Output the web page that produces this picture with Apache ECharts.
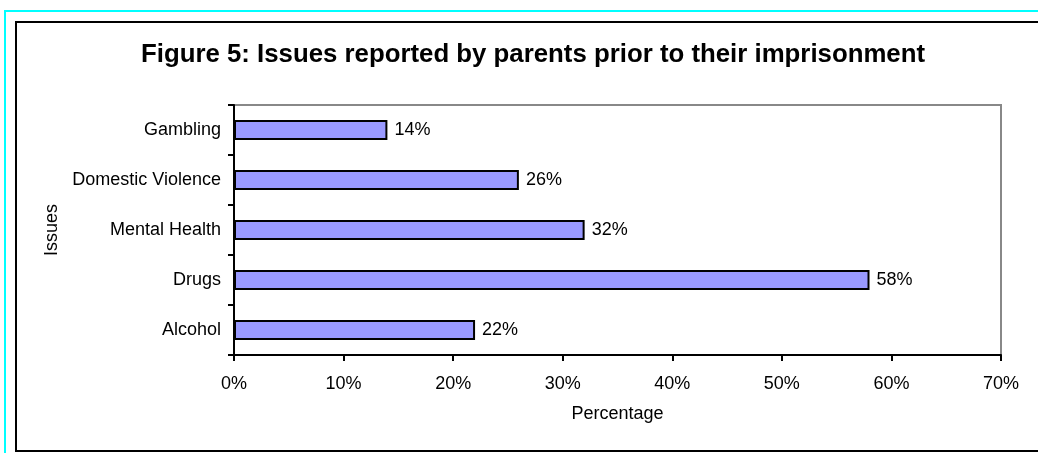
<!DOCTYPE html>
<html>
<head>
<meta charset="utf-8">
<script src="https://cdn.jsdelivr.net/npm/echarts@6/dist/echarts.min.js"></script>
<style>
  html, body { margin: 0; padding: 0; background: #fff; }
  #chart { width: 1038px; height: 453px; }
</style>
</head>
<body>
<div id="chart"></div>
<script>
// data, bottom to top as the category axis draws it
const issues = ['Alcohol', 'Drugs', 'Mental Health', 'Domestic Violence', 'Gambling'];
const percentages = [22, 58, 32, 26, 14];
const titleText = 'Figure 5: Issues reported by parents prior to their imprisonment';

const font = 'Liberation Sans, Arial, sans-serif';
const myChart = echarts.init(document.getElementById('chart'));

const option = {
    animation: false,
    backgroundColor: '#fff',
    textStyle: { fontFamily: font },
    title: {
        text: titleText,
        left: 528,
        textAlign: 'center',
        top: 37,
        textStyle: { fontFamily: font, fontSize: 25.8, fontWeight: 'bold', color: '#000' }
    },
    graphic: [
        // outer cyan frame and black frame (cut off at right / bottom)
        { type: 'rect', silent: true, shape: { x: 5, y: 11, width: 1200, height: 600 },
          style: { fill: 'none', stroke: '#00ffff', lineWidth: 2 } },
        { type: 'rect', silent: true, shape: { x: 16, y: 22, width: 1200, height: 429 },
          style: { fill: 'none', stroke: '#000', lineWidth: 2 } }
    ],
    grid: {
        show: true,
        borderColor: '#888',
        borderWidth: 2,
        left: 234,
        top: 105,
        right: 37,
        bottom: 98,
        containLabel: false
    },
    xAxis: {
        type: 'value',
        min: 0,
        max: 70,
        interval: 10,
        name: 'Percentage',
        nameLocation: 'middle',
        nameGap: 50,
        nameTextStyle: { fontSize: 18, color: '#000', fontFamily: font },
        axisLine: { show: true, lineStyle: { color: '#000', width: 2 } },
        axisTick: { show: true, length: 6, lineStyle: { color: '#000', width: 2 } },
        axisLabel: { formatter: '{value}%', fontSize: 18, color: '#000', margin: 20, fontFamily: font },
        splitLine: { show: false }
    },
    yAxis: {
        type: 'category',
        data: issues,
        name: 'Issues',
        nameLocation: 'middle',
        nameRotate: 90,
        nameGap: 172,
        nameTextStyle: { fontSize: 18, color: '#000', fontFamily: font },
        axisLine: { show: true, lineStyle: { color: '#000', width: 2 } },
        axisTick: { show: true, length: 6, lineStyle: { color: '#000', width: 2 } },
        axisLabel: { fontSize: 18, color: '#000', margin: 13, fontFamily: font },
        splitLine: { show: false }
    },
    series: [{
        type: 'bar',
        data: percentages,
        barWidth: 20,
        itemStyle: { color: '#9999ff', borderColor: '#000', borderWidth: 2 },
        label: {
            show: true,
            position: 'right',
            distance: 7,
            formatter: '{c}%',
            fontSize: 18,
            color: '#000',
            fontFamily: font
        }
    }]
};

myChart.setOption(option);
</script>
</body>
</html>
